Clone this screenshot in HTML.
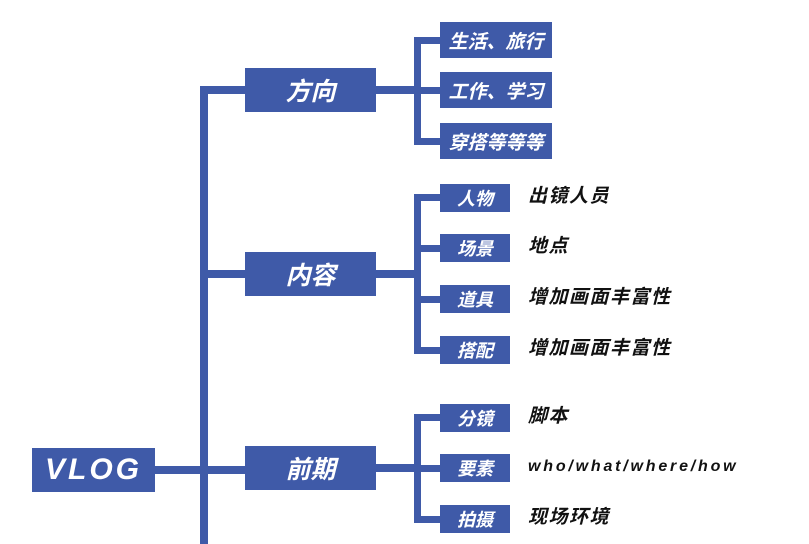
<!DOCTYPE html>
<html><head><meta charset="utf-8"><style>
body{margin:0;width:809px;height:544px;background:#fff;position:relative;overflow:hidden;font-family:"Liberation Sans","Noto Sans CJK SC",sans-serif}
.b{position:absolute;background:#3f5aa8;color:#fff;font-weight:bold;font-style:italic;display:flex;align-items:center;justify-content:center}
.l{position:absolute;background:#3f5aa8}
.t{position:absolute;font-weight:bold;font-style:italic;color:#111;font-size:19px;line-height:28px;letter-spacing:1.5px}
</style></head><body>
<div class="b" style="left:32px;top:448px;width:123px;height:44px;font-size:30px;letter-spacing:3px">VLOG</div>
<div class="l" style="left:155px;top:466px;width:90px;height:8px"></div>
<div class="l" style="left:200px;top:86px;width:8px;height:458px"></div>
<div class="l" style="left:200px;top:86px;width:45px;height:8px"></div>
<div class="l" style="left:200px;top:270px;width:45px;height:8px"></div>

<div class="b" style="left:245px;top:68px;width:131px;height:44px;font-size:25px">方向</div>
<div class="b" style="left:245px;top:252px;width:131px;height:44px;font-size:25px">内容</div>
<div class="b" style="left:245px;top:446px;width:131px;height:44px;font-size:25px">前期</div>

<div class="l" style="left:376px;top:86px;width:45px;height:8px"></div>
<div class="l" style="left:414px;top:37px;width:7px;height:108px"></div>
<div class="l" style="left:414px;top:37px;width:26px;height:7px"></div>
<div class="l" style="left:414px;top:87px;width:26px;height:7px"></div>
<div class="l" style="left:414px;top:138px;width:26px;height:7px"></div>
<div class="b" style="left:440px;top:22px;width:112px;height:36px;font-size:19px">生活、旅行</div>
<div class="b" style="left:440px;top:72px;width:112px;height:36px;font-size:19px">工作、学习</div>
<div class="b" style="left:440px;top:123px;width:112px;height:36px;font-size:19px">穿搭等等等</div>

<div class="l" style="left:376px;top:270px;width:45px;height:8px"></div>
<div class="l" style="left:414px;top:194px;width:7px;height:160px"></div>
<div class="l" style="left:414px;top:194px;width:26px;height:7px"></div>
<div class="l" style="left:414px;top:245px;width:26px;height:7px"></div>
<div class="l" style="left:414px;top:296px;width:26px;height:7px"></div>
<div class="l" style="left:414px;top:347px;width:26px;height:7px"></div>
<div class="b" style="left:440px;top:184px;width:70px;height:28px;font-size:18px">人物</div>
<div class="b" style="left:440px;top:234px;width:70px;height:28px;font-size:18px">场景</div>
<div class="b" style="left:440px;top:285px;width:70px;height:28px;font-size:18px">道具</div>
<div class="b" style="left:440px;top:336px;width:70px;height:28px;font-size:18px">搭配</div>
<div class="t" style="left:528px;top:183px">出镜人员</div>
<div class="t" style="left:528px;top:233px">地点</div>
<div class="t" style="left:528px;top:284px">增加画面丰富性</div>
<div class="t" style="left:528px;top:335px">增加画面丰富性</div>

<div class="l" style="left:376px;top:464px;width:45px;height:8px"></div>
<div class="l" style="left:414px;top:414px;width:7px;height:109px"></div>
<div class="l" style="left:414px;top:414px;width:26px;height:7px"></div>
<div class="l" style="left:414px;top:465px;width:26px;height:7px"></div>
<div class="l" style="left:414px;top:516px;width:26px;height:7px"></div>
<div class="b" style="left:440px;top:404px;width:70px;height:28px;font-size:18px">分镜</div>
<div class="b" style="left:440px;top:454px;width:70px;height:28px;font-size:18px">要素</div>
<div class="b" style="left:440px;top:505px;width:70px;height:28px;font-size:18px">拍摄</div>
<div class="t" style="left:528px;top:403px">脚本</div>
<div class="t" style="left:528px;top:453px;font-size:16px;letter-spacing:2.8px">who/what/where/how</div>
<div class="t" style="left:528px;top:504px">现场环境</div>
</body></html>
